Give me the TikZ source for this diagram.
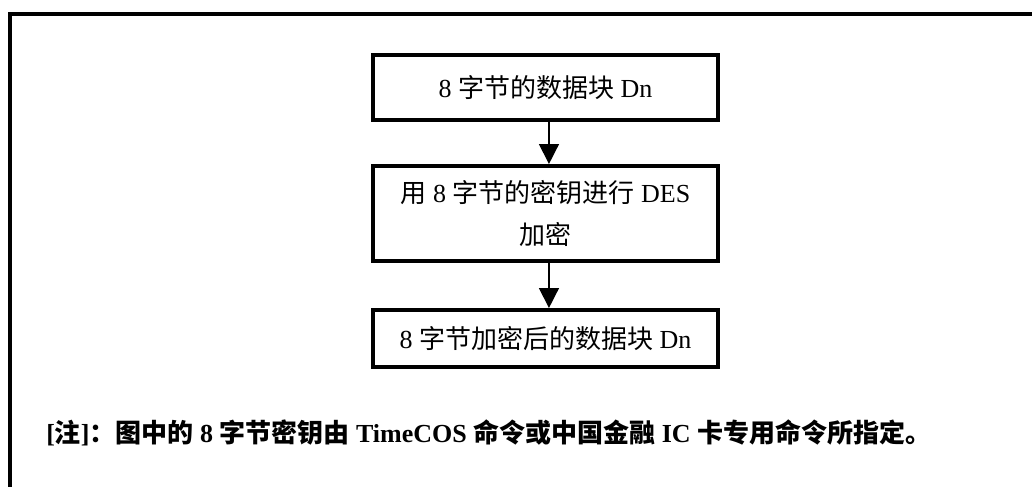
\documentclass[tikz,border=0pt]{standalone}
\usepackage{fontspec}
\setmainfont{Liberation Serif}
\newfontfamily\cjk{Noto Sans CJK SC}
\usetikzlibrary{arrows.meta}
\tikzset{
  box/.style={draw=black, line width=3pt, fill=white, minimum width=258.75pt, align=center, inner sep=0pt,
    font=\fontsize{19.5pt}{32pt}\selectfont},
  flow/.style={draw=black, line width=1.1pt, -{Triangle[length=15pt,width=15pt]}},
  frame/.style={draw=black, line width=3pt},
  note/.style={anchor=west, inner sep=0pt, font=\fontsize{19.5pt}{24pt}\selectfont\bfseries}
}
\begin{document}
\begin{tikzpicture}[x=0.75pt,y=-0.75pt]
\useasboundingbox (0,0) rectangle (1032,486);
\draw[frame] (10,500) -- (10,13.5) -- (1040,13.5);
\node[box, minimum height=48.75pt] (b1) at (545.5,87.5) {8 {\cjk 字节的数据块} Dn};
\node[box, minimum height=71.25pt] (b2) at (545.5,213.5) {{\cjk 用} 8 {\cjk 字节的密钥进行} DES\\{\cjk 加密}};
\node[box, minimum height=42.75pt] (b3) at (545.5,338.5) {8 {\cjk 字节加密后的数据块} Dn};
\draw[flow] ([xshift=2.6pt]b1.south) -- ([xshift=2.6pt]b2.north);
\draw[flow] ([xshift=2.6pt]b2.south) -- ([xshift=2.6pt]b3.north);
\node[note] (n) at (46,433) {[{\cjk 注}]{\cjk ：图中的} 8 {\cjk 字节密钥由} TimeCOS {\cjk 命令或中国金融} IC {\cjk 卡专用命令所指定。}};
\end{tikzpicture}
\end{document}
